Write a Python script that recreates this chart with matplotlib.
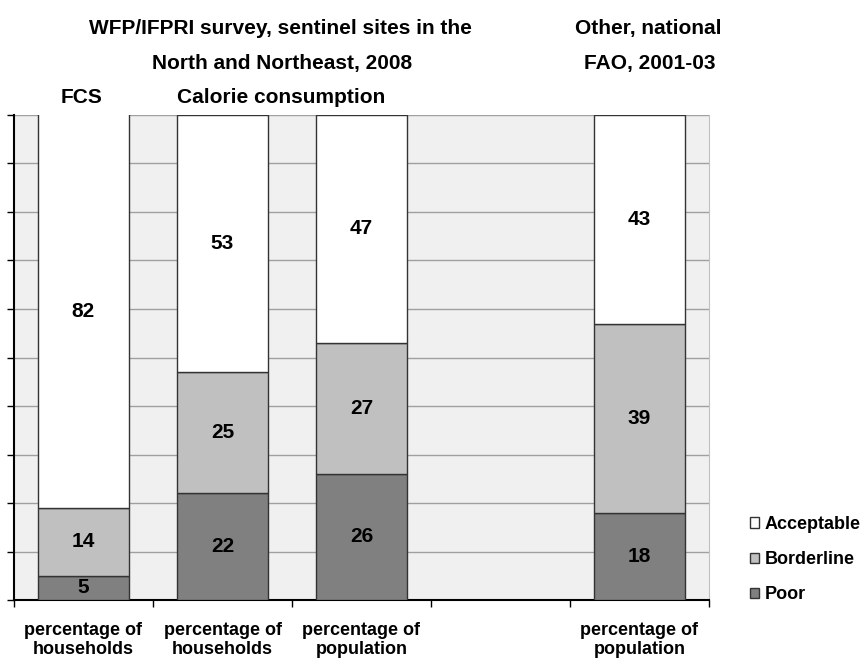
import numpy as np
import matplotlib.pyplot as plt

# Data (percent)
categories = ["percentage of\nhouseholds", "percentage of\nhouseholds",
              "percentage of\npopulation", "", "percentage of\npopulation"]
poor = [5, 22, 26, 0, 18]
borderline = [14, 25, 27, 0, 39]
acceptable = [82, 53, 47, 0, 43]
series_names = ["Poor", "Borderline", "Acceptable"]
colors = ["#808080", "#c0c0c0", "#ffffff"]

plt.rcParams["font.family"] = ["Liberation Sans", "DejaVu Sans"]

W, H = 864, 658
fig = plt.figure(figsize=(W / 100, H / 100), dpi=100)
ax = fig.add_axes([14 / W, 1 - 600 / H, (709 - 14) / W, (600 - 115) / H])
ax.set_facecolor("#f0f0f0")

x = np.arange(len(categories))
has_bar = np.array([p + b + a > 0 for p, b, a in zip(poor, borderline, acceptable)])
bottom = np.zeros(len(categories))
handles = []
for vals, name, col in zip([poor, borderline, acceptable], series_names, colors):
    vals = np.array(vals, dtype=float)
    bars = ax.bar(x[has_bar], vals[has_bar], width=0.66, bottom=bottom[has_bar],
                  color=col, edgecolor="#333333", linewidth=1.0, zorder=3, label=name)
    handles.append(bars)
    for xi, v, b0 in zip(x[has_bar], vals[has_bar], bottom[has_bar]):
        top = min(b0 + v, 100)
        ax.text(xi, (b0 + top) / 2, f"{int(v)}", ha="center", va="center",
                fontsize=15, fontweight="bold", zorder=4)
    bottom += vals

ax.set_xlim(-0.5, len(categories) - 0.5)
ax.set_ylim(0, 100)
ax.set_yticks(np.arange(0, 101, 10))
ax.set_yticklabels([])
ax.yaxis.grid(True, color="#a0a0a0", linewidth=1.0, zorder=0)
ax.tick_params(axis="y", direction="out", length=5, color="black", width=1)

ax.set_xticks(x)
ax.set_xticklabels(categories, fontsize=13, fontweight="bold", linespacing=1.1)
ax.tick_params(axis="x", which="major", length=0, pad=16)
ax.set_xticks(np.arange(-0.5, len(categories), 1), minor=True)
ax.tick_params(axis="x", which="minor", direction="out", length=5, width=1, color="black")

ax.spines["left"].set_color("black")
ax.spines["left"].set_linewidth(1.5)
ax.spines["bottom"].set_color("black")
ax.spines["bottom"].set_linewidth(1.5)
ax.spines["top"].set_visible(False)
ax.spines["right"].set_color("#c0c0c0")

# Group headings (baseline positions in pixels)
title_kw = dict(ha="center", va="baseline", fontsize=15, fontweight="bold")
headings = [
    (280, 34, "WFP/IFPRI survey, sentinel sites in the"),
    (282, 69, "North and Northeast, 2008"),
    (82, 103, "FCS"),
    (281, 103, "Calorie consumption"),
    (648, 34, "Other, national"),
    (650, 69, "FAO, 2001-03"),
]
for px, py, txt in headings:
    fig.text(px / W, 1 - py / H, txt, **title_kw)

ax.legend(handles[::-1], series_names[::-1], loc="upper left",
          bbox_to_anchor=(750 / W, 1 - 516 / H), bbox_transform=fig.transFigure,
          frameon=False, borderpad=0, borderaxespad=0, handlelength=0.5,
          handleheight=0.5, handletextpad=0.3, labelspacing=1.0,
          prop=dict(size=13, weight="bold"))

fig.savefig("out.png", dpi=100)
